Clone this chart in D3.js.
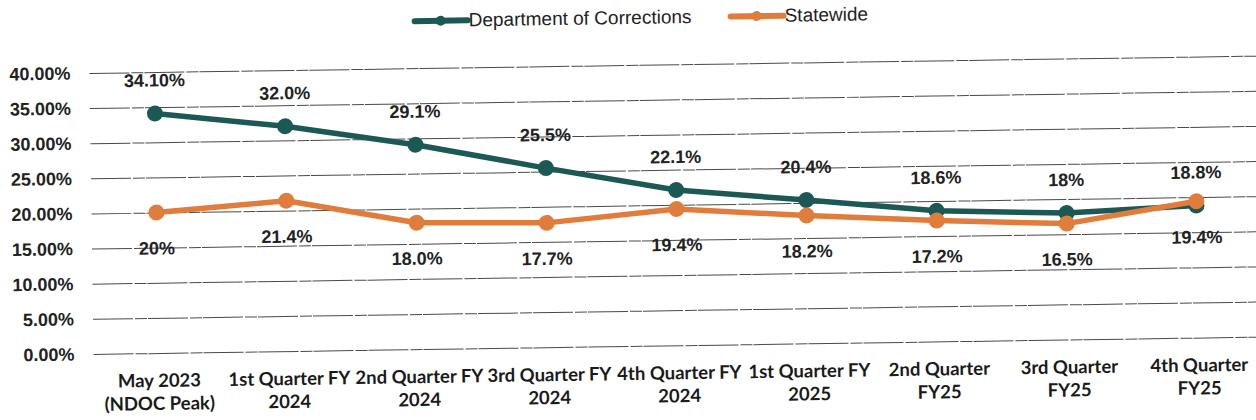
<!DOCTYPE html>
<html>
<head>
<meta charset="utf-8">
<script src="https://cdn.jsdelivr.net/npm/d3@7"></script>
<style>
  body { margin: 0; background: #fff; }
  svg { display: block; }
</style>
</head>
<body>
<script>
// categories, two lines each
const categories = [
  ["May 2023", "(NDOC Peak)"],
  ["1st Quarter FY", "2024"],
  ["2nd Quarter FY", "2024"],
  ["3rd Quarter FY", "2024"],
  ["4th Quarter FY", "2024"],
  ["1st Quarter FY", "2025"],
  ["2nd Quarter", "FY25"],
  ["3rd Quarter", "FY25"],
  ["4th Quarter", "FY25"]
];

const docValues = [34.1, 32.0, 29.1, 25.5, 22.1, 20.4, 18.6, 18, 18.8];
const docLabels = ["34.10%", "32.0%", "29.1%", "25.5%", "22.1%", "20.4%", "18.6%", "18%", "18.8%"];

const stateValues = [20, 21.4, 18.0, 17.7, 19.4, 18.2, 17.2, 16.5, 19.4];
const stateLabels = ["20%", "21.4%", "18.0%", "17.7%", "19.4%", "18.2%", "17.2%", "16.5%", "19.4%"];

const yTicks = [0, 5, 10, 15, 20, 25, 30, 35, 40];

const seriesNames = ["Department of Corrections", "Statewide"];
const seriesColors = ["#1c5954", "#e07d3c"];

const width = 1256;
const height = 420;

var svg = d3.select("body")
  .append("svg")
  .attr("width", width)
  .attr("height", height);

// the source is a scan, tilted a little
var g = svg.append("g")
  .attr("transform", "rotate(-0.85,157,250)");

var x = d3.scalePoint()
  .domain(d3.range(categories.length))
  .range([92, 1262])
  .padding(0.5);

var y = d3.scaleLinear()
  .domain([0, 40])
  .range([353, 72]);

// y axis with gridlines
var y_axis = d3.axisLeft(y)
  .tickValues(yTicks)
  .tickSizeInner(-(1262 - 92))
  .tickSizeOuter(0)
  .tickPadding(19)
  .tickFormat(function (d) { return d.toFixed(2) + "%"; });

var yg = g.append("g")
  .attr("transform", "translate(92,0)")
  .call(y_axis);

yg.select(".domain").remove();
yg.selectAll(".tick line")
  .attr("stroke", "#4a4a4a")
  .attr("stroke-width", 1)
  .attr("stroke-dasharray", "40,2,12,1");
yg.selectAll(".tick text")
  .attr("fill", "#222")
  .style("font-family", "'Liberation Sans', Arial, sans-serif")
  .style("font-size", "18px")
  .style("font-weight", "bold");

// x axis, labels on two lines
var x_axis = d3.axisBottom(x)
  .tickSize(0)
  .tickPadding(0)
  .tickFormat("");

var xg = g.append("g")
  .attr("transform", "translate(0,353)")
  .call(x_axis);

xg.select(".domain").remove();
xg.selectAll(".tick").each(function (d) {
  var t = d3.select(this).append("text")
    .attr("fill", "#1a1a1a")
    .attr("text-anchor", "middle")
    .style("font-family", "Lato, 'Open Sans', sans-serif")
    .style("font-size", "18.5px")
    .style("font-weight", "bold");
  t.append("tspan").attr("x", 0).attr("y", 34).text(categories[d][0]);
  t.append("tspan").attr("x", 0).attr("y", 57).text(categories[d][1]);
});

// lines and markers
var line = d3.line()
  .x(function (d, i) { return x(i); })
  .y(function (d) { return y(d); });

function drawSeries(values, color) {
  g.append("path")
    .datum(values)
    .attr("fill", "none")
    .attr("stroke", color)
    .attr("stroke-width", 5.5)
    .attr("stroke-linejoin", "round")
    .attr("d", line);

  g.append("g")
    .selectAll("circle")
    .data(values)
    .enter()
    .append("circle")
    .attr("cx", function (d, i) { return x(i); })
    .attr("cy", function (d) { return y(d); })
    .attr("r", 8)
    .attr("fill", color);
}

drawSeries(docValues, seriesColors[0]);
drawSeries(stateValues, seriesColors[1]);

// data labels: corrections above, statewide below
function drawLabels(values, labels, dy) {
  g.append("g")
    .selectAll("text")
    .data(values)
    .enter()
    .append("text")
    .attr("x", function (d, i) { return x(i); })
    .attr("y", function (d) { return y(d) + dy; })
    .attr("text-anchor", "middle")
    .attr("fill", "#222")
    .style("font-family", "'Liberation Sans', Arial, sans-serif")
    .style("font-size", "18px")
    .style("font-weight", "bold")
    .text(function (d, i) { return labels[i]; });
}

drawLabels(docValues, docLabels, -27);
drawLabels(stateValues, stateLabels, 42);

// legend
var legendX = [418, 734];

var lg = g.selectAll(".legend")
  .data(seriesNames)
  .enter()
  .append("g")
  .attr("class", "legend")
  .attr("transform", function (d, i) { return "translate(" + legendX[i] + ",25)"; });

lg.append("line")
  .attr("x1", 0)
  .attr("x2", 53)
  .attr("stroke", function (d, i) { return seriesColors[i]; })
  .attr("stroke-width", 6)
  .attr("stroke-linecap", "round");

lg.append("circle")
  .attr("cx", 26)
  .attr("r", 5)
  .attr("fill", function (d, i) { return seriesColors[i]; });

lg.append("text")
  .attr("x", 54)
  .attr("y", 6)
  .attr("fill", "#222")
  .style("font-family", "'Liberation Sans', Arial, sans-serif")
  .style("font-size", "19px")
  .text(function (d) { return d; });
</script>
</body>
</html>
